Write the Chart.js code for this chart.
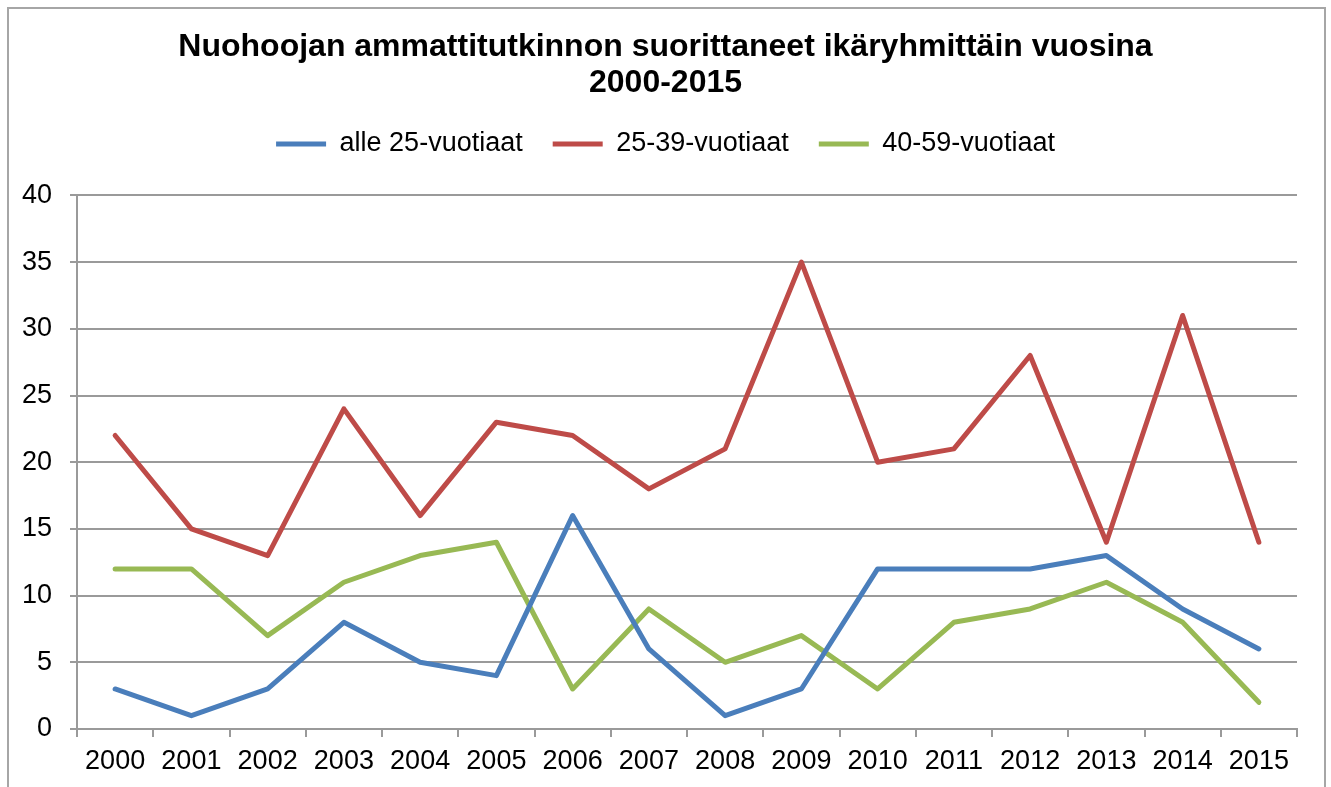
<!DOCTYPE html>
<html>
<head>
<meta charset="utf-8">
<script src="https://cdn.jsdelivr.net/npm/chart.js@4.4.1/dist/chart.umd.min.js"></script>
<style>
  html, body { margin: 0; padding: 0; background: #ffffff; }
  #wrap { width: 1331px; height: 787px; position: relative; }
</style>
</head>
<body>
<div id="wrap"><canvas id="c" width="1331" height="787"></canvas></div>
<script>
const years = ['2000','2001','2002','2003','2004','2005','2006','2007','2008','2009','2010','2011','2012','2013','2014','2015'];
const alle25 = [3, 1, 3, 8, 5, 4, 16, 6, 1, 3, 12, 12, 12, 13, 9, 6];
const v25_39 = [22, 15, 13, 24, 16, 23, 22, 18, 21, 35, 20, 21, 28, 14, 31, 14];
const v40_59 = [12, 12, 7, 11, 13, 14, 3, 9, 5, 7, 3, 8, 9, 11, 8, 2];
const seriesNames = ['alle 25-vuotiaat', '25-39-vuotiaat', '40-59-vuotiaat'];
const seriesColors = ['#4A7EBB', '#BE4B48', '#98B954'];
const titleLines = ['Nuohoojan ammattitutkinnon suorittaneet ikäryhmittäin vuosina', '2000-2015'];

const FONT = "'Liberation Sans', Arial, sans-serif";
const GRID = '#9a9a9a';

const framePlugin = {
  id: 'frame',
  beforeDraw(chart) {
    const ctx = chart.ctx;
    ctx.save();
    ctx.fillStyle = '#ffffff';
    ctx.fillRect(0, 0, chart.width, chart.height);
    ctx.strokeStyle = '#a6a6a6';
    ctx.lineWidth = 2;
    ctx.strokeRect(8, 8, 1317, 800);
    ctx.restore();
  }
};

function mkDataset(label, data, color) {
  return {
    label: label,
    data: data,
    borderColor: color,
    backgroundColor: color,
    borderWidth: 5,
    pointRadius: 0,
    pointHoverRadius: 0,
    tension: 0,
    borderJoinStyle: 'round',
    borderCapStyle: 'round',
    fill: false,
    yAxisID: 'y'
  };
}

new Chart(document.getElementById('c'), {
  type: 'line',
  data: {
    labels: years,
    datasets: [
      mkDataset(seriesNames[0], alle25, seriesColors[0]),
      mkDataset(seriesNames[1], v25_39, seriesColors[1]),
      mkDataset(seriesNames[2], v40_59, seriesColors[2])
    ]
  },
  plugins: [framePlugin],
  options: {
    responsive: false,
    animation: false,
    events: [],
    layout: { padding: { left: 0, right: 0, top: 0, bottom: 0 } },
    plugins: {
      title: {
        display: true,
        text: titleLines,
        color: '#000000',
        font: { family: FONT, size: 32, weight: 'bold', lineHeight: 1.1 },
        padding: { top: 30, bottom: 0 }
      },
      subtitle: {
        display: true,
        text: ' ',
        weight: 500,
        font: { family: FONT, size: 10, lineHeight: 1 },
        padding: { top: 0, bottom: 18 }
      },
      legend: {
        display: true,
        position: 'top',
        labels: {
          color: '#000000',
          font: { family: FONT, size: 27 },
          boxWidth: 50,
          boxHeight: 5,
          padding: 30,
          generateLabels(chart) {
            const items = Chart.defaults.plugins.legend.labels.generateLabels(chart);
            items.forEach(it => { it.lineWidth = 0; });
            return items;
          }
        }
      },
      tooltip: { enabled: false }
    },
    scales: {
      x: {
        offset: true,
        grid: {
          offset: true,
          drawOnChartArea: false,
          drawTicks: true,
          tickLength: 8,
          color: GRID,
          lineWidth: 2
        },
        border: { display: true, color: GRID, width: 2 },
        ticks: {
          color: '#000000',
          font: { family: FONT, size: 27 },
          padding: 8,
          maxRotation: 0,
          autoSkip: false
        },
        afterFit(scale) { scale.height = 58; }
      },
      y: {
        position: 'left',
        min: 0,
        max: 40,
        ticks: {
          stepSize: 5,
          color: '#000000',
          font: { family: FONT, size: 27 },
          padding: 18
        },
        grid: {
          color: GRID,
          lineWidth: 2,
          drawTicks: true,
          tickLength: 7
        },
        border: { display: true, color: GRID, width: 2 },
        afterFit(scale) { scale.width = 77; }
      },
      ySpacer: {
        type: 'linear',
        position: 'right',
        display: true,
        min: 0,
        max: 40,
        ticks: { display: false },
        grid: { display: false, drawTicks: false },
        border: { display: false },
        afterFit(scale) { scale.width = 34; }
      }
    }
  }
});
</script>
</body>
</html>
